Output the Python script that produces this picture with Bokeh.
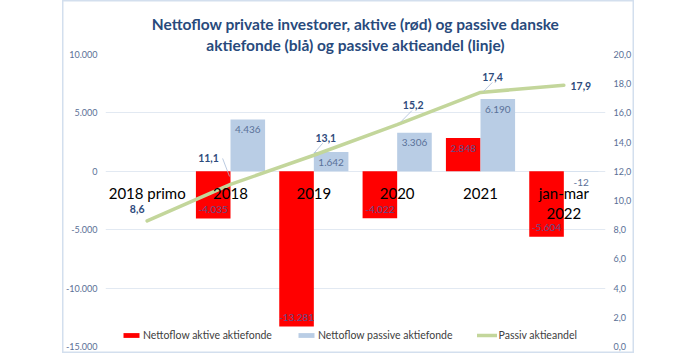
from bokeh.plotting import figure
from bokeh.layouts import row
from bokeh.models import (Range1d, LinearAxis, FixedTicker, ColumnDataSource,
                          Legend, LegendItem, Title, Spacer)
from bokeh.core.properties import value
from bokeh.embed import file_html
from bokeh.resources import INLINE

# ---------------- data ----------------
CATEGORIES = ["2018 primo", "2018", "2019", "2020", "2021", "jan-mar 2022"]
CATEGORY_LABELS = ["2018 primo", "2018", "2019", "2020", "2021", "jan-mar\n2022"]
ACTIVE_FLOW = [None, -4035, -13281, -4022, 2848, -5604]     # mio. kr.
PASSIVE_FLOW = [None, 4436, 1642, 3306, 6190, -12]          # mio. kr.
PASSIVE_SHARE = [8.6, 11.1, 13.1, 15.2, 17.4, 17.9]         # pct.
LEFT_TICKS = [-15000, -10000, -5000, 0, 5000, 10000]
RIGHT_TICKS = [0, 2, 4, 6, 8, 10, 12, 14, 16, 18, 20]
TITLE_LINES = ["Nettoflow private investorer, aktive (rød) og passive danske",
               "aktiefonde (blå) og passive aktieandel (linje)"]
LEGEND_LABELS = ["Nettoflow aktive aktiefonde", "Nettoflow passive aktiefonde",
                 "Passiv aktieandel"]


def fmt_thousands(v):
    s = f"{abs(int(v)):,}".replace(",", ".")
    return ("-" if v < 0 else "") + s


def fmt_decimal(v):
    return f"{v:.1f}".replace(".", ",")


# ---------------- styles ----------------
FONT = "Lato"
RED = "#FF0000"
BLUE = "#B9CDE5"
GREEN = "#C3D69B"
TICK_COLOR = "#5A6F96"
TITLE_COLOR = "#284A7C"
BAR_W = 0.415
PX_X = 507 / 6.0      # pixels per category unit
PX_SHARE = 292 / 20.0  # pixels per share unit

p = figure(width=572, height=353, x_range=Range1d(0, 6),
           y_range=Range1d(-15000, 10000), output_backend="svg",
           toolbar_location=None, x_axis_location=None,
           y_axis_location="left", min_border_left=38, min_border_right=27,
           min_border_top=54, min_border_bottom=7)
p.outline_line_color = None
p.background_fill_color = "white"
p.border_fill_color = None
p.extra_y_ranges = {"share": Range1d(0, 20)}
p.styles = {"box-shadow": "inset 0 0 0 1.5px #D3DFEE",
            "background-color": "white"}

# left axis
ax = p.yaxis[0]
ax.ticker = FixedTicker(ticks=LEFT_TICKS)
ax.major_label_overrides = {t: fmt_thousands(t) for t in LEFT_TICKS}
ax.axis_line_color = None
ax.major_tick_line_color = None
ax.minor_tick_line_color = None
ax.major_tick_out = 0
ax.major_tick_in = 0
ax.minor_tick_out = 0
ax.minor_tick_in = 0
ax.major_label_standoff = 8
ax.major_label_text_font = FONT
ax.major_label_text_font_size = "9px"
ax.major_label_text_color = TICK_COLOR

# right axis
rax = LinearAxis(y_range_name="share", ticker=FixedTicker(ticks=RIGHT_TICKS))
rax.major_label_overrides = {t: fmt_decimal(t) for t in RIGHT_TICKS}
rax.axis_line_color = None
rax.major_tick_line_color = None
rax.minor_tick_line_color = None
rax.major_tick_out = 0
rax.major_tick_in = 0
rax.minor_tick_out = 0
rax.minor_tick_in = 0
rax.major_label_standoff = 8
rax.major_label_text_font = FONT
rax.major_label_text_font_size = "9px"
rax.major_label_text_color = TICK_COLOR
p.add_layout(rax, "right")

p.xgrid.visible = False
p.ygrid.grid_line_color = "#E2E9F2"
p.ygrid.grid_line_width = 1

# bars
idx = [i for i in range(len(CATEGORIES)) if ACTIVE_FLOW[i] is not None]
centers = [i + 0.5 for i in range(len(CATEGORIES))]
act_src = ColumnDataSource(dict(x=[centers[i] - BAR_W / 2 for i in idx],
                                top=[ACTIVE_FLOW[i] for i in idx]))
pas_src = ColumnDataSource(dict(x=[centers[i] + BAR_W / 2 for i in idx],
                                top=[PASSIVE_FLOW[i] for i in idx]))
r_act = p.vbar(x="x", top="top", bottom=0, width=BAR_W, source=act_src,
               fill_color=RED, line_color=None)
r_pas = p.vbar(x="x", top="top", bottom=0, width=BAR_W, source=pas_src,
               fill_color=BLUE, line_color=None)

# line
r_line = p.line(centers, PASSIVE_SHARE, y_range_name="share",
                line_color=GREEN, line_width=3.5, line_cap="round")

# category labels
line1 = [c.split("\n")[0] for c in CATEGORY_LABELS]
line2 = [c.split("\n")[1] if "\n" in c else "" for c in CATEGORY_LABELS]
p.text(centers, [0] * len(centers), text=line1, y_offset=22,
       text_align="center", text_baseline="middle", text_font=value(FONT),
       text_font_size="15px", text_color="black")
p.text(centers, [0] * len(centers), text=line2, y_offset=42,
       text_align="center", text_baseline="middle", text_font=value(FONT),
       text_font_size="15px", text_color="black")


# bar value labels
def label_offset(v):
    if v >= 0:
        return 10
    if abs(v) < 1000:
        return 11
    return -9


act_lab = ColumnDataSource(dict(
    x=[centers[i] - BAR_W / 2 for i in idx],
    y=[ACTIVE_FLOW[i] for i in idx],
    t=[fmt_thousands(ACTIVE_FLOW[i]) for i in idx],
    off=[label_offset(ACTIVE_FLOW[i]) for i in idx]))
pas_lab = ColumnDataSource(dict(
    x=[centers[i] + BAR_W / 2 for i in idx],
    y=[PASSIVE_FLOW[i] for i in idx],
    t=[fmt_thousands(PASSIVE_FLOW[i]) for i in idx],
    off=[label_offset(PASSIVE_FLOW[i]) for i in idx]))
p.text(x="x", y="y", text="t", y_offset="off", source=act_lab,
       text_align="center", text_baseline="middle", text_font=value(FONT),
       text_font_size="10px", text_color="#5E4F8E")
p.text(x="x", y="y", text="t", y_offset="off", source=pas_lab,
       text_align="center", text_baseline="middle", text_font=value(FONT),
       text_font_size="10px", text_color="#5A7199")

# line value labels with leader lines
LABEL_OFFSETS = [(-10, -12), (-22, -26), (12, -17), (16, -20), (12, -15), (17, 1)]
LEADERS = [None, ((-8, -26), (-1, -8)), ((9, -12), (1, -3)),
           ((15, -14), (4, -3)), ((12, -10), (3, -1)), None]
x0s, y0s, x1s, y1s = [], [], [], []
for i, ld in enumerate(LEADERS):
    if ld is None:
        continue
    (ax0, ay0), (ax1, ay1) = ld
    x0s.append(centers[i] + ax0 / PX_X)
    y0s.append(PASSIVE_SHARE[i] - ay0 / PX_SHARE)
    x1s.append(centers[i] + ax1 / PX_X)
    y1s.append(PASSIVE_SHARE[i] - ay1 / PX_SHARE)
p.segment(x0s, y0s, x1s, y1s, y_range_name="share", line_color="#A9BCD8",
          line_width=0.8)
p.text(centers, PASSIVE_SHARE, text=[fmt_decimal(v) for v in PASSIVE_SHARE],
       x_offset=[o[0] for o in LABEL_OFFSETS],
       y_offset=[o[1] for o in LABEL_OFFSETS], y_range_name="share",
       text_align="center", text_baseline="middle", text_font=value(FONT),
       text_font_style="bold", text_font_size="10.5px", text_color="#2E4B7C")

# legend
legend = Legend(items=[LegendItem(label=LEGEND_LABELS[0], renderers=[r_act]),
                       LegendItem(label=LEGEND_LABELS[1], renderers=[r_pas]),
                       LegendItem(label=LEGEND_LABELS[2], renderers=[r_line])],
                orientation="horizontal", location=(16, 4), glyph_width=20,
                glyph_height=6, label_standoff=2, spacing=24, padding=0,
                margin=0, border_line_alpha=0, background_fill_alpha=0,
                label_text_font=FONT, label_text_font_size="10.5px",
                label_text_color="#404040", label_height=15)
p.add_layout(legend)

# title (second line added first: it sits closest to the frame)
for txt, so in [(TITLE_LINES[1], 2), (TITLE_LINES[0], 0)]:
    p.add_layout(Title(text=txt, align="center", text_font=FONT,
                       text_font_style="bold", text_font_size="15.5px",
                       text_color=TITLE_COLOR, standoff=so, offset=-4),
                 "above")

layout = row(Spacer(width=62, height=353), p)
open("out.html", "w").write(file_html(layout, INLINE))
